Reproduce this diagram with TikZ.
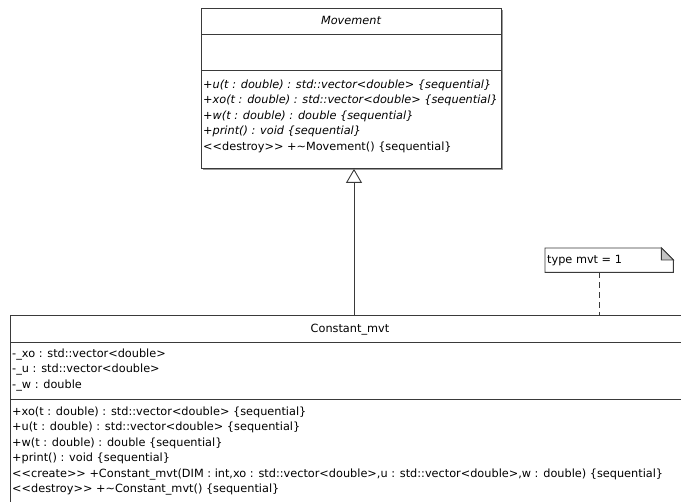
\documentclass[tikz,border=0pt]{standalone}
\usepackage{fontspec}
\setmainfont{DejaVu Sans}
\usetikzlibrary{arrows.meta,positioning}

\definecolor{umlgray}{HTML}{3A3A3A}
\definecolor{foldgray}{HTML}{C4C4C4}
\definecolor{shadowgray}{HTML}{9A9A9A}
\newcommand{\umlfont}{\fontsize{11.3}{15.5}\selectfont}

\tikzset{
  umlbox/.style={draw=umlgray, line width=0.9pt, fill=white, inner sep=0pt, anchor=north west},
  umlline/.style={draw=umlgray, line width=0.9pt},
  umltext/.style={inner sep=0pt, anchor=north west, align=left, font=\umlfont},
  umltitle/.style={inner sep=0pt, anchor=base, font=\umlfont},
}

\begin{document}
\begin{tikzpicture}[x=1pt,y=-1pt]
\clip (0,0) rectangle (681,502);

% abstract class
\fill[shadowgray] (203,10) rectangle (503,170);
\node[umlbox, minimum width=300pt, minimum height=160pt] (movement) at (201,8) {};
\node[umltitle] (movtitle) at (351,25) {\itshape Movement};
\draw[umlline] (201,34) -- (501,34);
\draw[umlline] (201,70) -- (501,70);
\node[umltext] (movops) at (203,79.5) {{\itshape +u(t : double) : std::vector<double> \{sequential\}}\\
  {\itshape +xo(t : double) : std::vector<double> \{sequential\}}\\
  {\itshape +w(t : double) : double \{sequential\}}\\
  {\itshape +print() : void \{sequential\}}\\
  <{}<destroy>{}> +\textasciitilde Movement() \{sequential\}};

% derived class
\node[umlbox, minimum width=680pt, minimum height=250pt] (constant) at (10,315) {};
\node[umltitle] (consttitle) at (350,333) {Constant\_mvt};
\draw[umlline] (10,342) -- (690,342);
\draw[umlline] (10,399) -- (690,399);
\node[umltext] (constattr) at (12,348.5) {-\_xo : std::vector<double>\\
  -\_u : std::vector<double>\\
  -\_w : double};
\node[umltext] (constops) at (12,406.5) {+xo(t : double) : std::vector<double> \{sequential\}\\
  +u(t : double) : std::vector<double> \{sequential\}\\
  +w(t : double) : double \{sequential\}\\
  +print() : void \{sequential\}\\
  <{}<create>{}> +Constant\_mvt(DIM : int,xo : std::vector<double>,u : std::vector<double>,w : double) \{sequential\}\\
  <{}<destroy>{}> +\textasciitilde Constant\_mvt() \{sequential\}};

% note
\node[inner sep=0pt, minimum width=128pt, minimum height=24pt, anchor=north west] (note) at (545,248) {};
\draw[umlline, fill=white] (note.north west) -- ([xshift=-12pt]note.north east)
  -- ([yshift=-12pt]note.north east) -- (note.south east) -- (note.south west) -- cycle;
\filldraw[umlline, fill=foldgray] ([xshift=-12pt]note.north east) -- ([yshift=-12pt]note.north east)
  -- ([xshift=-12pt, yshift=-12pt]note.north east) -- cycle;
\node[umltitle, anchor=base west] (notetext) at (547,264) {type mvt = 1};

% connectors
\coordinate (genfoot) at (354,315);
\coordinate (notefoot) at (599,315);
\draw[umlline, -{Triangle[open, length=14pt, width=16pt, line width=0.9pt]}] (genfoot) -- (genfoot |- movement.south);
\draw[umlline, dash pattern=on 6pt off 4pt] (notefoot |- note.south) -- (notefoot);
\end{tikzpicture}
\end{document}
